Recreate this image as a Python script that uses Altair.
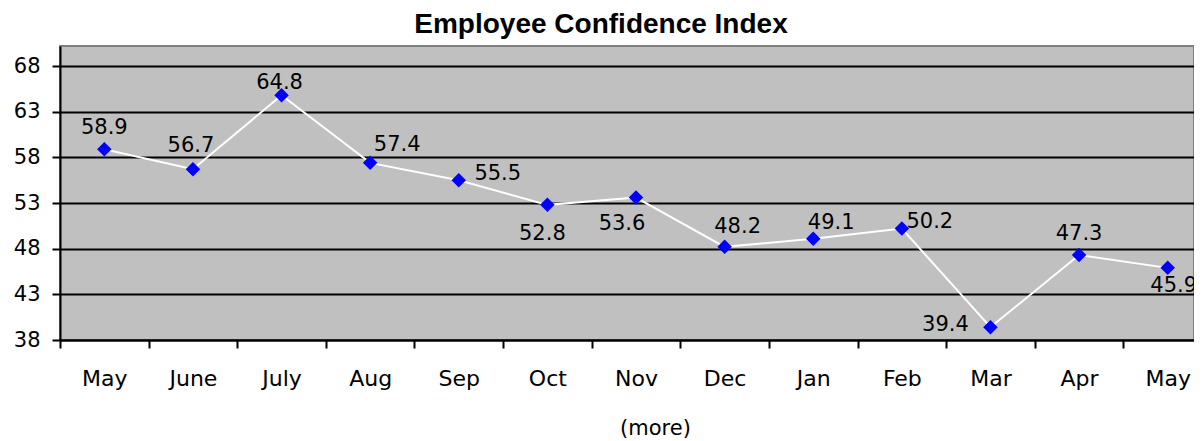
import json
import altair as alt
import pandas as pd

months = ["May", "June", "July", "Aug", "Sep", "Oct", "Nov", "Dec", "Jan", "Feb", "Mar", "Apr", "May"]
values = [58.9, 56.7, 64.8, 57.4, 55.5, 52.8, 53.6, 48.2, 49.1, 50.2, 39.4, 47.3, 45.9]
placements = ["above", "above_l", "above_near", "upper_right", "right", "below_l",
              "below_ll", "above_r", "above_rr", "right_near", "left", "above", "below_right"]
y_ticks = [38, 43, 48, 53, 58, 63, 68]

# label offsets (dx, dy) per named placement
PLACE = {
    "above": (0, -21), "above_l": (-2, -23), "above_near": (-2, -12),
    "upper_right": (27, -18), "right": (39, -6), "below_l": (-5, 29),
    "below_ll": (-14, 26), "above_r": (13, -20), "above_rr": (18, -16),
    "right_near": (28, -7), "left": (-45, -2), "below_right": (6, 18),
}

df = pd.DataFrame({"idx": list(range(len(months))), "month": months,
                   "value": values, "place": placements})

FONT = "DejaVu Sans"

x_enc = alt.X(
    "idx:O",
    scale=alt.Scale(type="band", domain=list(range(len(months))), range=[0, 1152],
                    paddingInner=0, paddingOuter=0),
    axis=alt.Axis(
        title="(more)", labelExpr=json.dumps(months) + "[datum.value]",
        labelAngle=0, tickBand="extent", grid=False,
        domainColor="black", domainWidth=2, tickColor="black", tickWidth=2, tickSize=8,
        labelFont=FONT, labelFontSize=22, labelColor="black", labelPadding=20,
        titleFont=FONT, titleFontSize=21, titleFontWeight="normal", titleColor="black",
        titleX=595, titleY=88, titleAlign="center", titleBaseline="middle",
    ),
)
y_enc = alt.Y(
    "value:Q",
    scale=alt.Scale(domain=[38, 70.2], nice=False, zero=False),
    axis=alt.Axis(
        title=None, values=y_ticks, grid=True, gridColor="black", gridWidth=2,
        domainColor="black", domainWidth=2, tickColor="black", tickWidth=2, tickSize=8,
        labelFont=FONT, labelFontSize=21, labelColor="black", labelPadding=12,
    ),
)

base = alt.Chart(df)
line = base.mark_line(color="white", strokeWidth=2).encode(x=x_enc, y=y_enc)
pts = base.mark_point(shape="diamond", filled=True, size=210, color="#0000FF",
                      opacity=1).encode(x="idx:O", y="value:Q")

layers = [line, pts]
for name, (dx, dy) in PLACE.items():
    layers.append(
        base.transform_filter(alt.datum.place == name)
        .mark_text(font=FONT, fontSize=21, color="black", dx=dx, dy=dy,
                   align="center", baseline="middle")
        .encode(x="idx:O", y="value:Q", text=alt.Text("value:Q", format=".1f"))
    )

chart = alt.layer(*layers).properties(
    width=1134, height=294,
    title=alt.TitleParams("Employee Confidence Index", font="Liberation Sans",
                          fontSize=28, fontWeight="bold", color="black", dx=-26, offset=7),
    autosize=alt.AutoSizeParams(type="none"),
    padding={"left": 52, "top": 38, "right": 0, "bottom": 101},
).configure_view(fill="#C0C0C0", stroke="#808080", strokeWidth=2)

chart.save("out.html", embed_options={"renderer": "svg", "actions": False})
